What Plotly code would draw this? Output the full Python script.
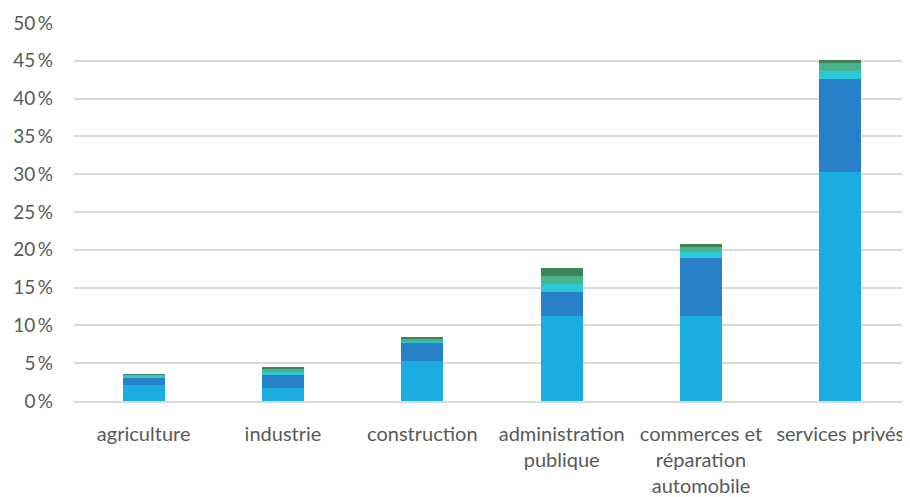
import plotly.graph_objects as go

categories = ["agriculture", "industrie", "construction", "administration<br>publique",
              "commerces et<br>réparation<br>automobile", "services privés"]
serie_1 = [2.08, 1.72, 5.29, 11.24, 11.24, 30.3]
serie_2 = [1.0, 1.76, 2.42, 3.13, 7.71, 12.34]
serie_3 = [0.36, 0.4, 0.1, 1.1, 0.71, 1.06]
serie_4 = [0.05, 0.4, 0.43, 1.06, 0.7, 1.06]
serie_5 = [0.02, 0.26, 0.18, 1.06, 0.4, 0.35]
tick_values = [0, 5, 10, 15, 20, 25, 30, 35, 40, 45, 50]

series = [("série 1", serie_1, "#1BADE2"),
          ("série 2", serie_2, "#2880C6"),
          ("série 3", serie_3, "#2BC8D5"),
          ("série 4", serie_4, "#47B48E"),
          ("série 5", serie_5, "#3E8456")]

fig = go.Figure()
for name, vals, col in series:
    fig.add_trace(go.Bar(x=categories, y=vals, name=name, marker_color=col,
                         marker_line_width=0))

fig.update_layout(
    barmode="stack",
    bargap=0.7,
    width=902, height=489,
    margin=dict(l=66, r=0, t=15, b=96, autoexpand=False),
    paper_bgcolor="white", plot_bgcolor="white",
    showlegend=False,
    font=dict(family="Lato", size=19, color="#595959"),
)
fig.update_yaxes(range=[0, 50], tickvals=tick_values,
                 ticktext=[f"{v}\u2009%" for v in tick_values],
                 showgrid=True, gridcolor="#D9D9D9", gridwidth=1.5,
                 zeroline=False, showline=False, ticks="", ticklabelstandoff=20,
                 automargin=False, tickfont=dict(size=19))
fig.update_xaxes(showline=True, linecolor="#D9D9D9", linewidth=2,
                 showgrid=False, ticks="", tickfont=dict(size=20),
                 ticklabelstandoff=14, automargin=False)

fig.write_html("out.html")
